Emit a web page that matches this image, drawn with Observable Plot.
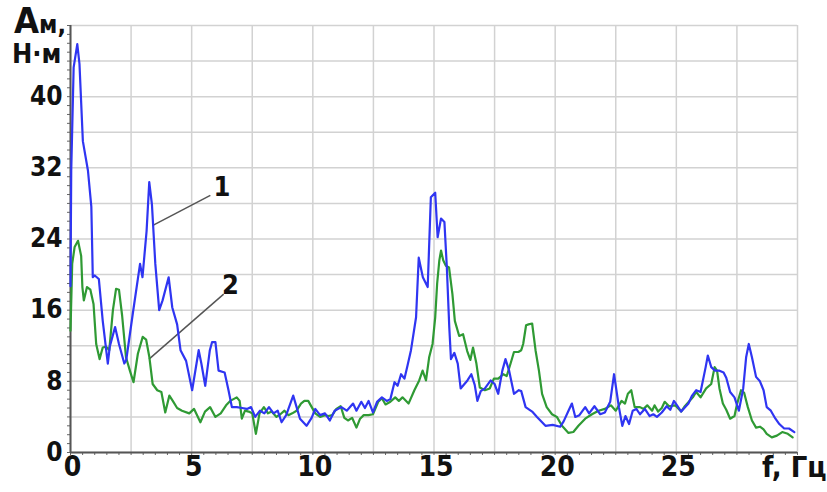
<!DOCTYPE html>
<html>
<head>
<meta charset="utf-8">
<script src="https://cdn.jsdelivr.net/npm/d3@7"></script>
<script src="https://cdn.jsdelivr.net/npm/@observablehq/plot@0.6"></script>
<style>
  html, body { margin: 0; padding: 0; background: #fff; }
  #wrap { position: relative; width: 827px; height: 492px; overflow: hidden; }
  .lbl { position: absolute; font-family: "Liberation Sans Narrow", "DejaVu Sans Condensed", "Liberation Sans", sans-serif; font-weight: bold; color: #111; white-space: nowrap; line-height: 1; }
</style>
</head>
<body>
<div id="wrap"></div>
<script>
// Series 1 (blue)
const blueX = [0.0,0.03,0.13,0.28,0.37,0.51,0.72,0.86,0.92,1.0,1.17,1.33,1.54,1.62,1.84,2.0,2.22,2.3,2.57,2.87,2.97,3.14,3.25,3.36,3.5,3.66,3.8,4.05,4.2,4.4,4.54,4.77,5.02,5.29,5.4,5.56,5.75,5.84,5.98,6.11,6.36,6.52,6.66,6.86,7.08,7.28,7.45,7.62,7.82,8.0,8.19,8.38,8.55,8.71,8.9,9.19,9.33,9.47,9.74,9.95,10.1,10.3,10.5,10.7,10.9,11.18,11.4,11.66,11.8,12.0,12.15,12.3,12.48,12.65,12.85,13.05,13.2,13.37,13.5,13.64,13.78,13.91,14.05,14.26,14.37,14.54,14.74,14.87,15.05,15.15,15.29,15.43,15.53,15.63,15.7,15.84,15.98,16.1,16.38,16.54,16.68,16.79,16.93,17.1,17.34,17.5,17.65,17.82,17.95,18.1,18.3,18.5,18.6,18.78,19.05,19.25,19.6,19.9,20.21,20.35,20.55,20.69,20.83,21.0,21.24,21.4,21.62,21.86,22.05,22.27,22.43,22.63,22.77,22.9,23.05,23.2,23.35,23.5,23.7,23.9,24.05,24.2,24.4,24.6,24.75,24.9,25.05,25.2,25.5,25.65,25.82,26.0,26.21,26.3,26.44,26.6,26.78,26.95,27.06,27.22,27.4,27.58,27.76,27.88,27.99,28.12,28.29,28.45,28.6,28.73,28.9,29.09,29.25,29.45,29.65,29.87];
const blueY = [18.7,31.7,43.3,45.9,43.7,35.0,31.7,27.6,19.7,19.9,19.5,14.8,10.0,11.9,14.1,12.2,10.0,10.4,15.6,21.2,19.7,24.9,30.4,27.9,21.2,16.0,17.1,19.7,16.3,14.4,11.5,10.3,7.0,11.5,10.0,7.5,11.5,12.4,12.4,9.2,9.0,7.0,5.1,5.1,5.0,4.9,5.1,4.0,4.7,4.4,5.1,4.4,4.7,3.4,4.2,6.4,5.1,3.8,3.0,3.9,4.9,4.2,4.4,3.6,4.7,5.1,4.7,5.5,4.7,5.7,5.0,5.8,4.5,5.7,6.2,5.8,6.0,7.9,7.5,8.8,8.3,9.8,11.5,15.2,21.9,19.7,18.6,28.7,29.2,24.2,26.3,25.9,20.8,14.1,10.5,11.2,10.0,7.2,8.1,8.8,7.6,5.8,6.9,7.2,8.1,7.7,6.6,9.2,10.5,9.2,6.6,7.0,6.9,5.1,4.6,4.0,3.0,3.1,2.9,3.5,4.7,5.5,4.0,4.2,5.1,4.4,5.2,4.3,4.5,5.7,8.8,5.1,3.0,4.1,3.2,4.7,4.9,4.3,4.9,4.1,4.3,4.0,4.5,5.2,4.8,5.8,5.2,4.6,5.5,6.4,7.0,6.8,9.6,10.9,9.6,9.2,9.2,9.0,8.4,6.8,6.2,4.7,7.2,10.7,12.2,10.7,8.5,8.0,7.0,5.1,4.7,3.8,3.2,2.7,2.7,2.3];

// Series 2 (green)
const greenX = [0.0,0.07,0.17,0.31,0.44,0.49,0.55,0.68,0.82,0.95,1.06,1.2,1.33,1.47,1.6,1.75,1.88,2.0,2.13,2.29,2.45,2.6,2.78,2.98,3.12,3.25,3.39,3.58,3.75,3.91,4.08,4.22,4.4,4.6,4.9,5.1,5.36,5.55,5.76,5.98,6.2,6.42,6.59,6.86,6.98,7.07,7.2,7.35,7.5,7.65,7.8,7.98,8.15,8.3,8.5,8.66,8.83,8.99,9.15,9.33,9.51,9.65,9.81,10.1,10.3,10.5,10.65,10.8,10.97,11.15,11.3,11.45,11.62,11.8,11.95,12.1,12.3,12.48,12.7,12.85,13.0,13.2,13.4,13.55,13.7,13.95,14.19,14.39,14.53,14.67,14.8,14.94,15.05,15.13,15.22,15.29,15.38,15.49,15.62,15.76,15.86,16.04,16.2,16.37,16.5,16.61,16.75,16.89,17.1,17.3,17.47,17.65,17.86,18.0,18.16,18.3,18.48,18.6,18.68,18.8,18.9,19.05,19.19,19.33,19.46,19.65,19.87,20.07,20.28,20.55,20.75,20.96,21.24,21.52,21.79,22.05,22.3,22.5,22.74,22.88,23.0,23.14,23.28,23.5,23.65,23.8,24.0,24.1,24.25,24.4,24.52,24.7,24.95,25.2,25.35,25.68,25.82,26.0,26.23,26.44,26.58,26.68,26.78,26.92,27.06,27.22,27.4,27.51,27.67,27.8,27.95,28.12,28.29,28.45,28.6,28.73,28.94,29.15,29.37,29.6,29.8];
const greenY = [13.7,21.2,23.1,23.8,22.1,18.6,17.1,18.6,18.3,16.7,12.2,10.5,11.8,11.9,11.5,16.0,18.4,18.3,15.4,10.7,9.2,7.9,11.1,13.0,12.7,10.8,7.7,7.0,6.8,4.5,6.4,5.8,5.0,4.7,4.4,4.9,3.4,4.6,5.1,4.0,4.4,5.3,5.8,6.2,5.8,3.8,4.7,4.6,4.4,2.1,4.4,5.1,4.4,4.6,4.0,4.3,4.7,4.2,4.4,4.7,5.5,5.8,5.8,4.4,4.0,4.2,4.1,4.2,4.9,5.2,3.9,3.6,3.9,2.8,3.8,4.2,4.2,4.3,5.7,6.1,5.4,5.7,6.2,5.8,6.2,5.5,7.0,8.1,9.2,8.1,10.7,12.2,15.2,19.0,21.6,22.7,21.6,21.0,20.8,17.8,14.8,13.1,13.3,11.4,10.4,11.8,10.0,7.3,7.0,7.2,8.3,8.3,8.8,8.6,10.0,11.3,11.3,11.5,12.2,14.3,14.4,14.5,11.5,9.2,6.6,5.1,4.3,4.0,3.0,2.2,2.3,3.0,3.8,4.3,4.7,4.9,5.3,4.7,5.8,5.5,6.6,7.0,5.1,5.1,4.9,5.3,4.7,5.3,4.6,5.0,5.7,5.2,5.3,4.6,5.2,6.2,6.8,6.2,7.2,7.7,9.6,9.2,7.2,5.5,4.8,3.8,4.1,5.5,7.0,6.7,5.1,3.6,2.8,2.9,2.6,2.1,1.7,1.9,2.3,2.1,1.7];

// Tick labels
const xTicks = [0, 5, 10, 15, 20, 25];
const yTicks = [0, 8, 16, 24, 32, 40];

// Curve annotations
const annNames = ["1", "2"];
const annX = [6.25, 6.6];
const annY = [29.8, 18.8];
const leadX1 = [5.77, 6.32];
const leadY1 = [28.9, 17.8];
const leadX2 = [3.38, 3.24];
const leadY2 = [25.5, 10.5];

const blue = blueX.map((x, i) => ({x, y: blueY[i]}));
const green = greenX.map((x, i) => ({x, y: greenY[i]}));
const ann = annNames.map((t, i) => ({t, x: annX[i], y: annY[i], x1: leadX1[i], y1: leadY1[i], x2: leadX2[i], y2: leadY2[i]}));

const FONT = '"Liberation Sans Narrow", "DejaVu Sans Condensed", "Liberation Sans", sans-serif';

const chart = Plot.plot({
  width: 827,
  height: 492,
  marginLeft: 70,
  marginRight: 30,
  marginTop: 25,
  marginBottom: 40,
  style: {fontFamily: FONT, background: "#fff", overflow: "visible"},
  x: {domain: [0, 30]},
  y: {domain: [0, 48]},
  marks: [
    Plot.gridX(d3.range(0, 30.01, 2.5), {stroke: "#d2d2d2", strokeOpacity: 1, strokeWidth: 1.5}),
    Plot.gridY(d3.range(0, 48.01, 4), {stroke: "#d2d2d2", strokeOpacity: 1, strokeWidth: 1.5}),
    Plot.axisX(d3.range(0, 30.01, 0.5), {tickSize: 3, tickFormat: () => "", stroke: "#666", label: null}),
    Plot.axisY(d3.range(0, 48.01, 1), {tickSize: 3, tickFormat: () => "", stroke: "#666", label: null}),
    Plot.axisX(xTicks, {tickSize: 0, tickPadding: 4, fontSize: 28, fontWeight: "bold", fill: "#111", label: null, dx: 2}),
    Plot.axisY(yTicks, {tickSize: 0, tickPadding: 8, fontSize: 26, fontWeight: "bold", fill: "#111", label: null}),
    Plot.ruleX([0], {stroke: "#555", strokeWidth: 2}),
    Plot.ruleY([0], {stroke: "#555", strokeWidth: 2}),
    Plot.link(ann, {x1: "x1", y1: "y1", x2: "x2", y2: "y2", stroke: "#555", strokeWidth: 1.5}),
    Plot.line(green, {x: "x", y: "y", stroke: "#2f9a34", strokeWidth: 2.2}),
    Plot.line(blue, {x: "x", y: "y", stroke: "#2f35f2", strokeWidth: 2.2}),
    Plot.text(ann, {x: "x", y: "y", text: "t", fontSize: 27, fontWeight: "bold", fill: "#111"})
  ]
});

const wrap = document.getElementById("wrap");
wrap.appendChild(chart);

function addLabel(html, left, top, size) {
  const d = document.createElement("div");
  d.className = "lbl";
  d.style.left = left + "px";
  d.style.top = top + "px";
  d.style.fontSize = size + "px";
  d.innerHTML = html;
  wrap.appendChild(d);
}
addLabel('А<span style="font-size:25px">м,</span>', 14, 3, 36);
addLabel('Н·м', 12, 40, 27);
addLabel('f, Гц', 762, 453, 29);
</script>
</body>
</html>
